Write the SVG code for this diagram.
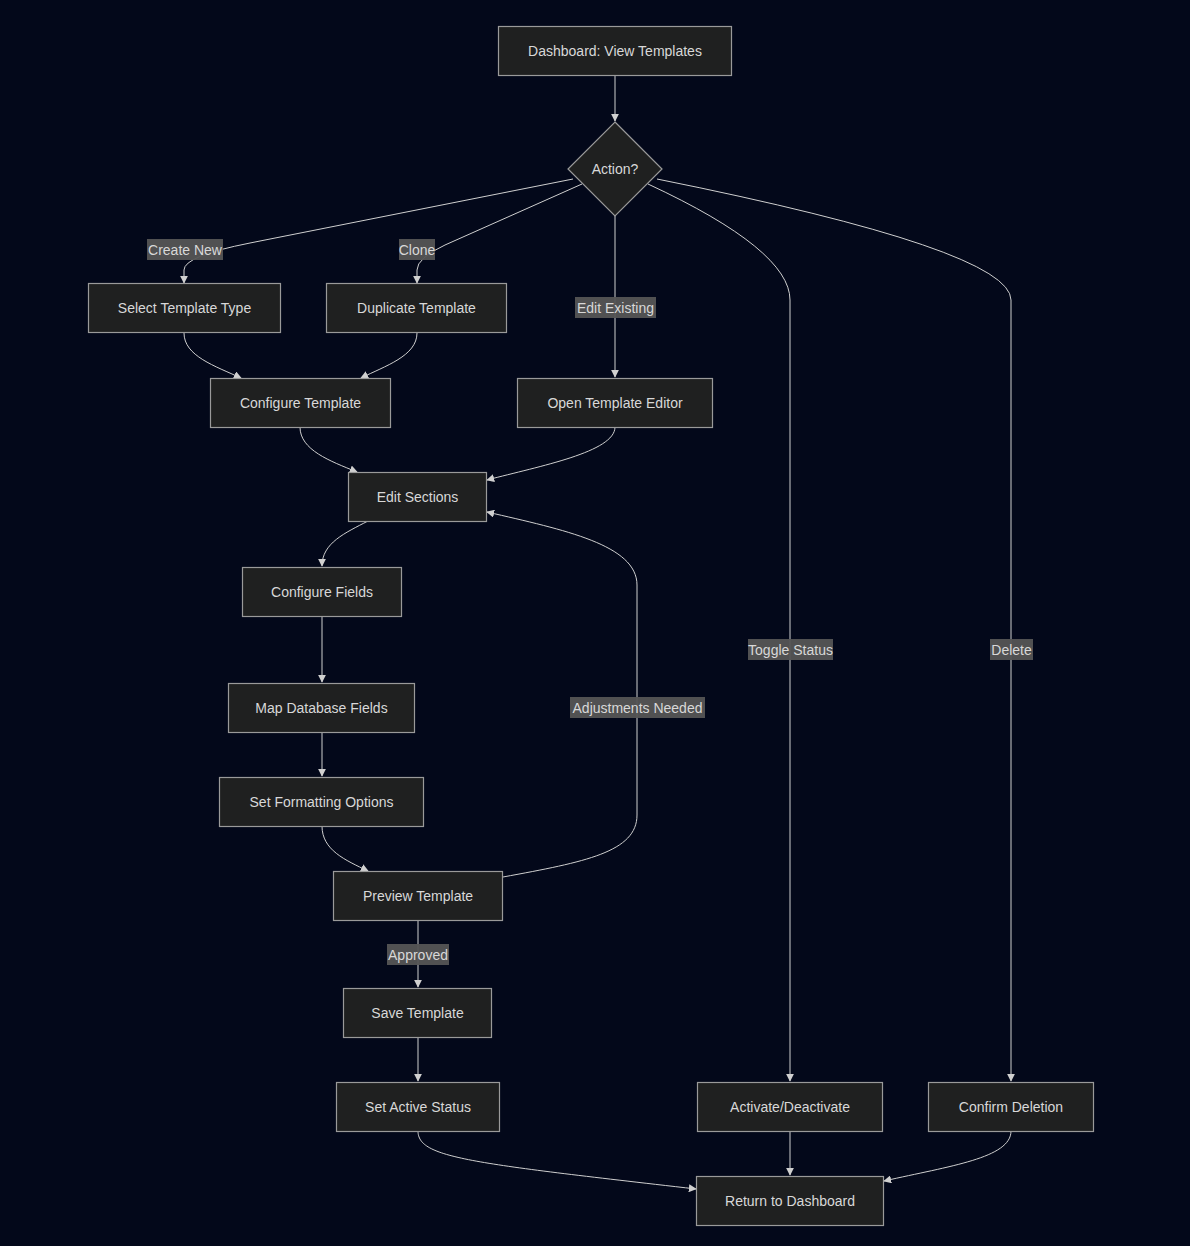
<svg xmlns="http://www.w3.org/2000/svg" width="1190" height="1246" viewBox="0 0 1190 1246">
<defs>
<marker id="arr" viewBox="0 0 10 10" refX="9" refY="5" markerWidth="8" markerHeight="8" markerUnits="userSpaceOnUse" orient="auto">
<path d="M0,0 L10,5 L0,10 z" fill="#d0d0d0"/>
</marker>
<style>
.n rect, .n polygon { fill:#1f2020; stroke:#9a9a9a; stroke-width:1.2; }
.n text { fill:#d8d8d8; font-family:"Liberation Sans", Arial, sans-serif; font-size:14px; text-anchor:middle; dominant-baseline:central; }
.e path { fill:none; stroke:#cfcfcf; stroke-width:1; marker-end:url(#arr); }
.lb rect { fill:#555555; opacity:0.95; }
.lb text { fill:#d8d8d8; font-family:"Liberation Sans", Arial, sans-serif; font-size:14px; text-anchor:middle; dominant-baseline:central; }
</style>
</defs>
<rect x="0" y="0" width="1190" height="1246" fill="#03081a"/>

<g id="connectors" class="e">
<path d="M615,75 L615,121"/>
<path d="M573,179 L250,243 Q184,256 184,270 L184,283"/>
<path d="M582,184 L445,245 Q417,258 417,270 L417,283"/>
<path d="M615,216 L615,377"/>
<path d="M648,184 Q790,250 790,300 L790,1081"/>
<path d="M657,179 Q1011,250 1011,300 L1011,1081"/>
<path d="M184,333 C184,356 215,366 241,378"/>
<path d="M417,333 C417,356 385,366 361,378"/>
<path d="M300,427 C300,450 330,461 357,472"/>
<path d="M615,427 C615,452 540,466 487,480"/>
<path d="M368,521 C345,533 322,543 322,566"/>
<path d="M322,616 L322,682"/>
<path d="M322,732 L322,776"/>
<path d="M322,826 C322,850 345,860 368,871"/>
<path d="M503,877 C585,862 637,852 637,815 L637,585 C637,545 565,530 487,512"/>
<path d="M418,921 L418,987"/>
<path d="M418,1037 L418,1081"/>
<path d="M418,1131 C418,1158 470,1163 696,1189"/>
<path d="M790,1131 L790,1175"/>
<path d="M1011,1131 C1011,1158 950,1166 884,1181"/>
</g>

<g id="edge-labels" class="lb">
<rect x="147" y="239" width="76" height="21"/><text x="185" y="249.5">Create New</text>
<rect x="399" y="239" width="36" height="21"/><text x="417" y="249.5">Clone</text>
<rect x="575" y="297" width="81" height="21"/><text x="615.5" y="307.5">Edit Existing</text>
<rect x="748" y="639" width="85" height="21"/><text x="790.5" y="649.5">Toggle Status</text>
<rect x="990" y="639" width="43" height="21"/><text x="1011.5" y="649.5">Delete</text>
<rect x="570" y="697" width="135" height="21"/><text x="637.5" y="707.5">Adjustments Needed</text>
<rect x="387" y="944" width="62" height="21"/><text x="418" y="954.5">Approved</text>
</g>

<g id="n-dashboard" class="n"><rect x="498.5" y="26.5" width="233" height="49"/><text x="615" y="51">Dashboard: View Templates</text></g>
<g id="n-action" class="n"><polygon points="615,122 662,169 615,216 568,169"/><text x="615" y="169">Action?</text></g>
<g id="n-select" class="n"><rect x="88.5" y="283.5" width="192" height="49"/><text x="184.5" y="308">Select Template Type</text></g>
<g id="n-duplicate" class="n"><rect x="326.5" y="283.5" width="180" height="49"/><text x="416.5" y="308">Duplicate Template</text></g>
<g id="n-configure" class="n"><rect x="210.5" y="378.5" width="180" height="49"/><text x="300.5" y="403">Configure Template</text></g>
<g id="n-open" class="n"><rect x="517.5" y="378.5" width="195" height="49"/><text x="615" y="403">Open Template Editor</text></g>
<g id="n-sections" class="n"><rect x="348.5" y="472.5" width="138" height="49"/><text x="417.5" y="497">Edit Sections</text></g>
<g id="n-fields" class="n"><rect x="242.5" y="567.5" width="159" height="49"/><text x="322" y="592">Configure Fields</text></g>
<g id="n-map" class="n"><rect x="228.5" y="683.5" width="186" height="49"/><text x="321.5" y="708">Map Database Fields</text></g>
<g id="n-format" class="n"><rect x="219.5" y="777.5" width="204" height="49"/><text x="321.5" y="802">Set Formatting Options</text></g>
<g id="n-preview" class="n"><rect x="333.5" y="871.5" width="169" height="49"/><text x="418" y="896">Preview Template</text></g>
<g id="n-save" class="n"><rect x="343.5" y="988.5" width="148" height="49"/><text x="417.5" y="1013">Save Template</text></g>
<g id="n-active" class="n"><rect x="336.5" y="1082.5" width="163" height="49"/><text x="418" y="1107">Set Active Status</text></g>
<g id="n-toggle" class="n"><rect x="697.5" y="1082.5" width="185" height="49"/><text x="790" y="1107">Activate/Deactivate</text></g>
<g id="n-confirm" class="n"><rect x="928.5" y="1082.5" width="165" height="49"/><text x="1011" y="1107">Confirm Deletion</text></g>
<g id="n-return" class="n"><rect x="696.5" y="1176.5" width="187" height="49"/><text x="790" y="1201">Return to Dashboard</text></g>
</svg>
